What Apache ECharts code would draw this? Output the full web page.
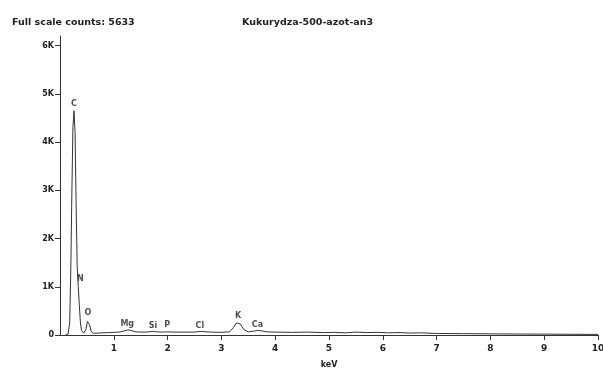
<!DOCTYPE html>
<html>
<head>
<meta charset="utf-8">
<script src="https://cdn.jsdelivr.net/npm/echarts@6/dist/echarts.min.js"></script>
<style>
    html, body {margin: 0; padding: 0; background: #fff;}
    #EdsChart {width: 603px; height: 369px;}
</style>
</head>
<body>
<div id="EdsChart"></div>
<script>
var myChart = echarts.init(document.getElementById('EdsChart'));

// widmo: [keV, zliczenia]
var energy = [0.10, 0.15, 0.18, 0.20, 0.22, 0.24, 0.26, 0.28, 0.30, 0.32, 0.34, 0.36, 0.38, 0.40, 0.44,
    0.48, 0.51, 0.53, 0.55, 0.58, 0.62, 0.70, 0.80, 0.90, 1.00, 1.10, 1.20, 1.26, 1.32, 1.40, 1.50,
    1.60, 1.74, 1.80, 1.90, 2.00, 2.02, 2.10, 2.30, 2.50, 2.62, 2.80, 3.00, 3.15, 3.22, 3.28, 3.31,
    3.35, 3.42, 3.50, 3.60, 3.68, 3.75, 3.85, 4.00, 4.30, 4.60, 4.90, 5.10, 5.30, 5.50, 5.70, 5.90,
    6.10, 6.30, 6.50, 6.70, 7.00, 7.50, 8.00, 8.50, 9.00, 9.50, 10.00];
var counts = [0, 20, 250, 1300, 2900, 4300, 4650, 4200, 2700, 1400, 1000, 600, 250, 90, 40,
    110, 280, 300, 210, 70, 35, 40, 45, 50, 55, 60, 85, 105, 95, 65, 60,
    60, 75, 65, 60, 65, 80, 60, 60, 60, 75, 60, 55, 65, 150, 250, 260,
    230, 110, 65, 80, 95, 85, 65, 60, 55, 60, 50, 55, 45, 60, 50, 55,
    45, 50, 40, 45, 32, 28, 24, 20, 18, 15, 12];

// oznaczenia pierwiastków
var elements = ['C', 'N', 'O', 'Mg', 'Si', 'P', 'Cl', 'K', 'Ca'];
var elemKeV = [0.26, 0.38, 0.52, 1.25, 1.73, 1.99, 2.60, 3.31, 3.67];
var elemPos = [4800, 1170, 450, 230, 190, 210, 190, 390, 210];

var yTicks = [0, 1000, 2000, 3000, 4000, 5000, 6000];
var xTicks = [1, 2, 3, 4, 5, 6, 7, 8, 9, 10];

var lineData = [];
for (var i = 0; i < energy.length; i++) {
    lineData.push([energy[i], counts[i]]);
}
var labelData = [];
for (var j = 0; j < elements.length; j++) {
    labelData.push({name: elements[j], value: [elemKeV[j], elemPos[j]]});
}

var txt = {
    fontFamily: 'DejaVu Sans',
    fontWeight: 'bold',
    fontSize: 8,
    color: '#222'
};

option = {
    animation: false,
    backgroundColor: '#fff',
    title: [
        {
            text: 'Full scale counts: 5633',
            left: 7,
            top: 13,
            textStyle: {fontFamily: 'DejaVu Sans', fontWeight: 'bold', fontSize: 9.5, color: '#222'}
        },
        {
            text: 'Kukurydza-500-azot-an3',
            left: 237,
            top: 13,
            textStyle: {fontFamily: 'DejaVu Sans', fontWeight: 'bold', fontSize: 9.5, color: '#222'}
        }
    ],
    grid: {
        left: 60,
        right: 5,
        top: 36,
        bottom: 34,
        outerBoundsMode: 'none'
    },
    xAxis: {
        type: 'value',
        min: 0,
        max: 10,
        interval: 1,
        name: 'keV',
        nameLocation: 'middle',
        nameGap: 26,
        nameTextStyle: txt,
        splitLine: {show: false},
        axisLine: {onZero: false, lineStyle: {color: '#333', width: 1}},
        axisTick: {show: true, length: 5, lineStyle: {color: '#333'}, customValues: xTicks},
        axisLabel: {
            customValues: xTicks,
            margin: 9,
            fontFamily: 'DejaVu Sans',
            fontWeight: 'bold',
            fontSize: 9,
            color: '#222'
        }
    },
    yAxis: {
        type: 'value',
        min: 0,
        max: 6200,
        splitLine: {show: false},
        axisLine: {show: true, lineStyle: {color: '#333', width: 1}},
        axisTick: {show: true, length: 5, lineStyle: {color: '#333'}, customValues: yTicks},
        axisLabel: {
            customValues: yTicks,
            margin: 6,
            fontFamily: 'DejaVu Sans',
            fontWeight: 'bold',
            fontSize: 8,
            color: '#222',
            formatter: function (v) {
                return v === 0 ? '0' : (v / 1000) + 'K';
            }
        }
    },
    series: [
        {
            name: 'widmo',
            type: 'line',
            data: lineData,
            showSymbol: false,
            symbol: 'none',
            lineStyle: {color: '#333', width: 1},
            silent: true
        },
        {
            name: 'pierwiastki',
            type: 'scatter',
            data: labelData,
            symbolSize: 1,
            itemStyle: {color: 'rgba(0,0,0,0)'},
            label: {
                show: true,
                position: 'inside',
                formatter: '{b}',
                fontFamily: 'DejaVu Sans',
                fontWeight: 'bold',
                fontSize: 8,
                color: '#222'
            },
            silent: true
        }
    ]
};
myChart.setOption(option);
</script>
</body>
</html>
